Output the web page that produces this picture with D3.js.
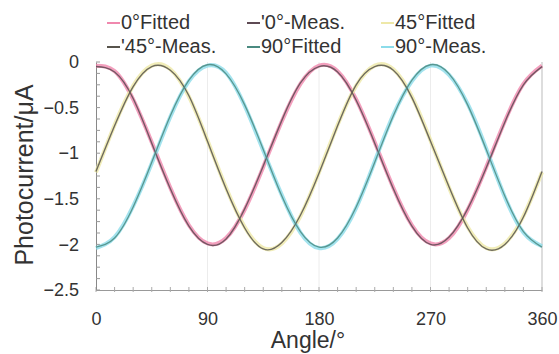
<!DOCTYPE html>
<html>
<head>
<meta charset="utf-8">
<script src="https://cdn.jsdelivr.net/npm/d3@7"></script>
<style>
  html, body { margin: 0; padding: 0; background: #fff; }
  text { font-family: "Liberation Sans", Arial, sans-serif; fill: #333; }
</style>
</head>
<body>
<svg id="chart" width="559" height="354"></svg>
<script>
// data
const angles = [0, 15, 30, 45, 60, 75, 90, 105, 120, 135, 150, 165, 180,
  195, 210, 225, 240, 255, 270, 285, 300, 315, 330, 345, 360];

const fitted0 = [-0.04, -0.10, -0.41, -0.88, -1.38, -1.79, -1.99, -1.93, -1.62, -1.15, -0.65, -0.24, -0.04,
  -0.10, -0.41, -0.88, -1.38, -1.79, -1.99, -1.93, -1.62, -1.15, -0.65, -0.24, -0.04];
const meas0 = [-0.05, -0.11, -0.40, -0.89, -1.39, -1.80, -2.00, -1.94, -1.61, -1.14, -0.64, -0.23, -0.05,
  -0.11, -0.42, -0.89, -1.39, -1.80, -2.00, -1.92, -1.61, -1.16, -0.66, -0.25, -0.05];
const fitted45 = [-1.21, -0.69, -0.26, -0.04, -0.08, -0.38, -0.86, -1.38, -1.81, -2.04, -1.99, -1.69, -1.21,
  -0.69, -0.26, -0.04, -0.08, -0.38, -0.86, -1.38, -1.81, -2.04, -1.99, -1.69, -1.21];
const meas45 = [-1.20, -0.70, -0.27, -0.05, -0.09, -0.37, -0.87, -1.39, -1.82, -2.05, -1.98, -1.68, -1.22,
  -0.70, -0.25, -0.05, -0.09, -0.39, -0.87, -1.37, -1.82, -2.05, -2.00, -1.70, -1.20];
const fitted90 = [-2.03, -1.93, -1.59, -1.10, -0.59, -0.20, -0.03, -0.13, -0.47, -0.96, -1.47, -1.86, -2.03,
  -1.93, -1.59, -1.10, -0.59, -0.20, -0.03, -0.13, -0.47, -0.96, -1.47, -1.86, -2.03];
const meas90 = [-2.04, -1.92, -1.58, -1.11, -0.60, -0.21, -0.04, -0.12, -0.48, -0.97, -1.46, -1.87, -2.04,
  -1.94, -1.60, -1.09, -0.58, -0.21, -0.04, -0.14, -0.46, -0.95, -1.48, -1.87, -2.02];

const xTicks = [0, 90, 180, 270, 360];
const yTicks = [0, -0.5, -1, -1.5, -2, -2.5];
const legendLabels = ['0°Fitted', "'0°-Meas.", '45°Fitted', "'45°-Meas.", '90°Fitted', '90°-Meas.'];
const seriesValues = [fitted0, meas0, fitted45, meas45, fitted90, meas90];

const colors = ['#f088ae', '#5e4a54', '#eee8a8', '#57544c', '#4a8a80', '#8cdcea'];
const widths = [4, 1.4, 4, 1.4, 1.3, 4];

const svg = d3.select('#chart');
const x = d3.scaleLinear().domain([0, 360]).range([96, 542]);
const y = d3.scaleLinear().domain([-2.5, 0]).range([290, 62]);

// light vertical grid
svg.append('g')
  .selectAll('line')
  .data(xTicks.slice(1, -1))
  .enter()
  .append('line')
  .attr('x1', d => x(d)).attr('x2', d => x(d))
  .attr('y1', y(0)).attr('y2', y(-2.5))
  .attr('stroke', '#ececec')
  .attr('stroke-width', 1);

// right border
svg.append('line')
  .attr('x1', x(360)).attr('x2', x(360))
  .attr('y1', y(0)).attr('y2', y(-2.5))
  .attr('stroke', '#bbb');

// x axis
const xAxis = svg.append('g')
  .attr('transform', 'translate(0,' + y(-2.5) + ')')
  .call(d3.axisBottom(x).tickValues(xTicks).tickSize(0).tickPadding(22));
xAxis.select('.domain').attr('stroke', '#999');
xAxis.selectAll('text').style('font-size', '18px').attr('fill', '#333');
xAxis.append('g')
  .selectAll('line')
  .data(d3.range(0, 361, 15))
  .enter()
  .append('line')
  .attr('x1', d => x(d)).attr('x2', d => x(d))
  .attr('y1', -3).attr('y2', 2)
  .attr('stroke', '#aaa');

// y axis
const yAxis = svg.append('g')
  .attr('transform', 'translate(' + x(0) + ',0)')
  .call(d3.axisLeft(y).tickValues(yTicks).tickSize(0).tickPadding(17).tickFormat(d3.format('')));
yAxis.select('.domain').attr('stroke', '#888');
yAxis.selectAll('text').style('font-size', '18px').attr('fill', '#333');
yAxis.append('g')
  .selectAll('line')
  .data(d3.range(0, 21).map(i => -i * 0.125))
  .enter()
  .append('line')
  .attr('x1', 0).attr('x2', 4)
  .attr('y1', d => y(d)).attr('y2', d => y(d))
  .attr('stroke', '#999');

// curves: light thick ones first, dark thin ones on top
const line = d3.line()
  .x((d, i) => x(angles[i]))
  .y(d => y(d))
  .curve(d3.curveNatural);

const order = [0, 2, 5, 1, 3, 4];
svg.append('g')
  .selectAll('path')
  .data(order)
  .enter()
  .append('path')
  .attr('d', i => line(seriesValues[i]))
  .attr('fill', 'none')
  .attr('stroke', i => colors[i])
  .attr('stroke-width', i => widths[i])
  .attr('stroke-opacity', i => widths[i] > 2 ? 0.8 : 0.85);

// legend
const legendX = [107, 247, 381];
const legendY = [22, 46];
const legend = svg.append('g')
  .selectAll('g')
  .data(legendLabels)
  .enter()
  .append('g')
  .attr('transform', (d, i) => 'translate(' + legendX[i % 3] + ',' + legendY[Math.floor(i / 3)] + ')');
legend.append('line')
  .attr('x1', 0).attr('x2', 13)
  .attr('y1', 1).attr('y2', 1)
  .attr('stroke', (d, i) => colors[i])
  .attr('stroke-width', 2);
legend.append('text')
  .attr('x', 14)
  .attr('dy', '0.35em')
  .style('font-size', '20px')
  .text(d => d);

// axis titles
svg.append('text')
  .attr('x', 308)
  .attr('y', 348)
  .attr('text-anchor', 'middle')
  .style('font-size', '23px')
  .text('Angle/°');

svg.append('text')
  .attr('transform', 'translate(33,175) rotate(-90)')
  .attr('text-anchor', 'middle')
  .style('font-size', '25px')
  .text('Photocurrent/μA');
</script>
</body>
</html>
